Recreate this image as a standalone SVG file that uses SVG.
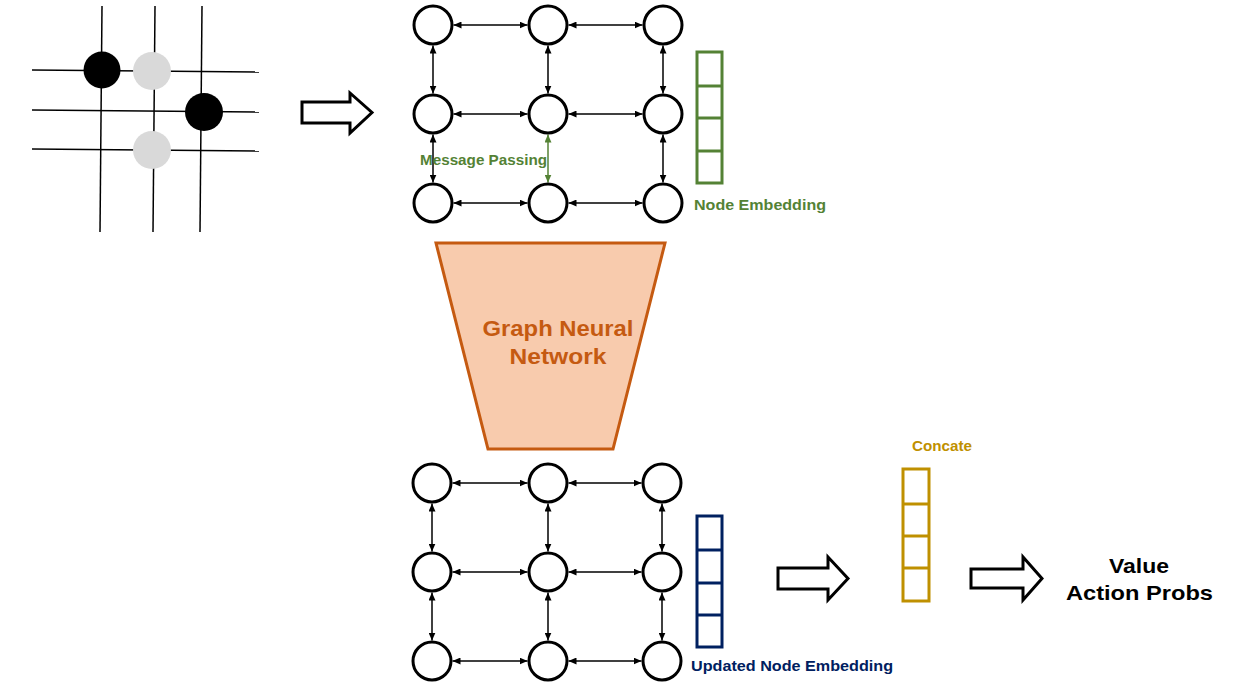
<svg xmlns="http://www.w3.org/2000/svg" width="1239" height="700" viewBox="0 0 1239 700">
<style>
.gl{stroke:#000;stroke-width:1.5;fill:none}
.nd{fill:#fff;stroke:#000;stroke-width:3}
.ed{stroke:#000;stroke-width:1.5;fill:none;marker-start:url(#ah);marker-end:url(#ah)}
.edg{stroke:#548235;stroke-width:1.5;fill:none;marker-start:url(#ahg);marker-end:url(#ahg)}
.blk{fill:#fff;stroke:#000;stroke-width:3;stroke-linejoin:miter}
.t{font-family:"Liberation Sans",Arial,sans-serif;font-weight:bold}
</style>
<defs>
<marker id="ah" viewBox="0 0 8 7" refX="8" refY="3.5" markerWidth="8" markerHeight="7" markerUnits="userSpaceOnUse" orient="auto-start-reverse"><path d="M0,0 L8,3.5 L0,7 z" fill="#000"/></marker>
<marker id="ahg" viewBox="0 0 8 7" refX="8" refY="3.5" markerWidth="8" markerHeight="7" markerUnits="userSpaceOnUse" orient="auto-start-reverse"><path d="M0,0 L8,3.5 L0,7 z" fill="#548235"/></marker>
</defs>
<rect width="1239" height="700" fill="#fff"/>

<g id="go-board">
<line class="gl" x1="102" y1="6" x2="100" y2="232"/>
<line class="gl" x1="155" y1="6" x2="153" y2="232"/>
<line class="gl" x1="202" y1="6" x2="200" y2="232"/>
<line class="gl" x1="32" y1="70" x2="259" y2="72"/>
<line class="gl" x1="32" y1="110" x2="259" y2="112"/>
<line class="gl" x1="32" y1="149" x2="259" y2="151"/>
<circle cx="102" cy="70" r="18.5" fill="#000"/>
<circle cx="152" cy="71" r="19" fill="#d9d9d9"/>
<circle cx="204" cy="112" r="19" fill="#000"/>
<circle cx="152" cy="150" r="19" fill="#d9d9d9"/>
</g>

<g id="arrow1"><polygon class="blk" points="302,102 350,102 350,93 372,112.5 350,133 350,123 302,123"/></g>
<g id="arrow2"><polygon class="blk" points="778,568 828,568 828,557 848,578.5 828,600 828,589 778,589"/></g>
<g id="arrow3"><polygon class="blk" points="971,569 1023,569 1023,557 1042,578.5 1023,600 1023,588 971,588"/></g>

<g id="connectors">
<!-- top graph horizontal -->
<line class="ed" x1="453.5" y1="25" x2="527.5" y2="25"/>
<line class="ed" x1="568.5" y1="25" x2="642.5" y2="25"/>
<line class="ed" x1="453.5" y1="114" x2="527.5" y2="114"/>
<line class="ed" x1="568.5" y1="114" x2="642.5" y2="114"/>
<line class="ed" x1="453.5" y1="203" x2="527.5" y2="203"/>
<line class="ed" x1="568.5" y1="203" x2="642.5" y2="203"/>
<!-- top graph vertical -->
<line class="ed" x1="433" y1="45.5" x2="433" y2="93.5"/>
<line class="ed" x1="548" y1="45.5" x2="548" y2="93.5"/>
<line class="ed" x1="663" y1="45.5" x2="663" y2="93.5"/>
<line class="ed" x1="433" y1="134.5" x2="433" y2="182.5"/>
<line class="edg" x1="548" y1="134.5" x2="548" y2="182.5"/>
<line class="ed" x1="663" y1="134.5" x2="663" y2="182.5"/>
<!-- bottom graph horizontal -->
<line class="ed" x1="452.5" y1="483" x2="527.5" y2="483"/>
<line class="ed" x1="568.5" y1="483" x2="641.5" y2="483"/>
<line class="ed" x1="452.5" y1="572" x2="527.5" y2="572"/>
<line class="ed" x1="568.5" y1="572" x2="641.5" y2="572"/>
<line class="ed" x1="452.5" y1="661" x2="527.5" y2="661"/>
<line class="ed" x1="568.5" y1="661" x2="641.5" y2="661"/>
<!-- bottom graph vertical -->
<line class="ed" x1="432" y1="503.5" x2="432" y2="551.5"/>
<line class="ed" x1="548" y1="503.5" x2="548" y2="551.5"/>
<line class="ed" x1="662" y1="503.5" x2="662" y2="551.5"/>
<line class="ed" x1="432" y1="592.5" x2="432" y2="640.5"/>
<line class="ed" x1="548" y1="592.5" x2="548" y2="640.5"/>
<line class="ed" x1="662" y1="592.5" x2="662" y2="640.5"/>
</g>

<g id="top-graph">
<g id="t00"><circle class="nd" cx="433" cy="25" r="19"/></g>
<g id="t01"><circle class="nd" cx="548" cy="25" r="19"/></g>
<g id="t02"><circle class="nd" cx="663" cy="25" r="19"/></g>
<g id="t10"><circle class="nd" cx="433" cy="114" r="19"/></g>
<g id="t11"><circle class="nd" cx="548" cy="114" r="19"/></g>
<g id="t12"><circle class="nd" cx="663" cy="114" r="19"/></g>
<g id="t20"><circle class="nd" cx="433" cy="203" r="19"/></g>
<g id="t21"><circle class="nd" cx="548" cy="203" r="19"/></g>
<g id="t22"><circle class="nd" cx="663" cy="203" r="19"/></g>
</g>

<g id="bottom-graph">
<g id="b00"><circle class="nd" cx="432" cy="483" r="19"/></g>
<g id="b01"><circle class="nd" cx="548" cy="483" r="19"/></g>
<g id="b02"><circle class="nd" cx="662" cy="483" r="19"/></g>
<g id="b10"><circle class="nd" cx="432" cy="572" r="19"/></g>
<g id="b11"><circle class="nd" cx="548" cy="572" r="19"/></g>
<g id="b12"><circle class="nd" cx="662" cy="572" r="19"/></g>
<g id="b20"><circle class="nd" cx="432" cy="661" r="19"/></g>
<g id="b21"><circle class="nd" cx="548" cy="661" r="19"/></g>
<g id="b22"><circle class="nd" cx="662" cy="661" r="19"/></g>
</g>

<g id="message-passing-label">
<text class="t" x="420" y="165" font-size="15" fill="#548235" textLength="127" lengthAdjust="spacingAndGlyphs">Message Passing</text>
</g>

<g id="node-embedding" fill="none" stroke="#548235" stroke-width="3">
<rect x="697" y="52" width="25" height="131"/>
<line x1="697" y1="86" x2="722" y2="86"/>
<line x1="697" y1="118" x2="722" y2="118"/>
<line x1="697" y1="151" x2="722" y2="151"/>
<text class="t" x="694" y="210" font-size="15" fill="#548235" stroke="none" textLength="132" lengthAdjust="spacingAndGlyphs">Node Embedding</text>
</g>

<g id="gnn">
<polygon points="436,243 665,243 613,449 488,449" fill="#f8cbad" stroke="#c55a11" stroke-width="3"/>
<text class="t" x="558" y="336" font-size="22" fill="#c55a11" text-anchor="middle" textLength="151" lengthAdjust="spacingAndGlyphs">Graph Neural</text>
<text class="t" x="558" y="364" font-size="22" fill="#c55a11" text-anchor="middle" textLength="97" lengthAdjust="spacingAndGlyphs">Network</text>
</g>

<g id="updated-embedding" fill="none" stroke="#002060" stroke-width="3">
<rect x="697" y="516" width="25" height="131"/>
<line x1="697" y1="550" x2="722" y2="550"/>
<line x1="697" y1="583" x2="722" y2="583"/>
<line x1="697" y1="615" x2="722" y2="615"/>
<text class="t" x="691" y="671" font-size="15" fill="#002060" stroke="none" textLength="202" lengthAdjust="spacingAndGlyphs">Updated Node Embedding</text>
</g>

<g id="concate" fill="none" stroke="#bf9000" stroke-width="3">
<rect x="903" y="469" width="26" height="132"/>
<line x1="903" y1="504" x2="929" y2="504"/>
<line x1="903" y1="536" x2="929" y2="536"/>
<line x1="903" y1="568" x2="929" y2="568"/>
<text class="t" x="912" y="451" font-size="14" fill="#bf9000" stroke="none" textLength="60" lengthAdjust="spacingAndGlyphs">Concate</text>
</g>

<g id="output">
<text class="t" x="1139" y="573" font-size="21" fill="#000" text-anchor="middle" textLength="60" lengthAdjust="spacingAndGlyphs">Value</text>
<text class="t" x="1139.5" y="600" font-size="21" fill="#000" text-anchor="middle" textLength="147" lengthAdjust="spacingAndGlyphs">Action Probs</text>
</g>
</svg>
